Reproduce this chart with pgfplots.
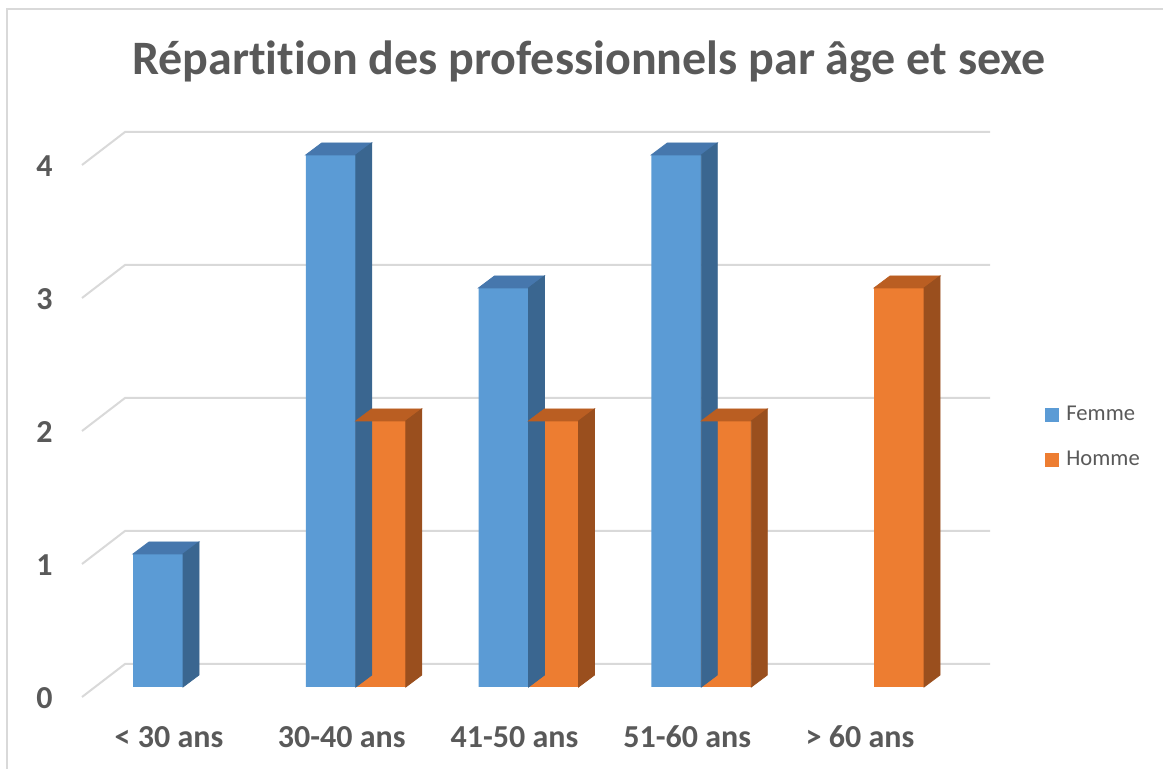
\documentclass[border=0pt]{standalone}
\usepackage{pgfplots}
\pgfplotsset{compat=1.18}
\usepackage{pgfplotstable}
\usepackage{fontspec}
\setmainfont[Ligatures=NoCommon]{Carlito}
\definecolor{femme}{HTML}{5B9BD5}
\definecolor{femtop}{HTML}{4677AD}
\definecolor{femside}{HTML}{3A6690}
\definecolor{homme}{HTML}{ED7D31}
\definecolor{homtop}{HTML}{BA5E22}
\definecolor{homside}{HTML}{9A4F1E}
\definecolor{txt}{HTML}{595959}
\definecolor{gridc}{HTML}{D9D9D9}
\pgfdeclareplotmark{blank}{}
\pgfplotstableread{
x v
0 1
1 4
2 3
3 4
}\femme
\pgfplotstableread{
x v
1 2
2 2
3 2
4 3
}\homme
\begin{document}
\begin{tikzpicture}
\useasboundingbox (-41pt,-41pt) rectangle (540.5pt,343.5pt);
\draw[gridc, line width=1pt] (545pt,338.75pt) -- (-37.5pt,338.75pt) -- (-37.5pt,-45pt);
\begin{axis}[
  at={(0,0)}, anchor=south west,
  x=86.375pt, y=66.5pt,
  xmin=-0.5847, xmax=4.5, ymin=0, ymax=4,
  enlargelimits=false, clip=false,
  axis line style={draw=none}, major tick length=0pt,
  xtick={0,1,2,3,4},
  xticklabels={< 30 ans, 30-40 ans, 41-50 ans, 51-60 ans, > 60 ans},
  ytick={0,1,2,3,4},
  /pgf/number format/assume math mode=true,
  ticklabel style={font=\bfseries\fontsize{16}{16}\selectfont, text=txt, inner sep=0pt},
  xticklabel style={anchor=base, yshift=-30.5pt, xshift=-7pt},
  yticklabel style={anchor=east, xshift=-14.5pt, yshift=-5.5pt},
  every axis title shift=0pt,
  title={Répartition des professionnels par âge et sexe},
  title style={font=\bfseries\fontsize{24}{28}\selectfont, text=txt, at={(0.5772,1.1504)}, anchor=base, inner sep=0pt},
  legend style={draw=none, fill=none, at={(1.0895,0.4685)}, anchor=west,
    font=\fontsize{11.3}{13}\selectfont, text=txt, row sep=12.75pt, column sep=3.5pt,
    nodes={inner sep=0pt, text height=7.5pt, text depth=2pt}},
  legend cell align=left,
]
\pgfplotsinvokeforeach{0,1,2,3,4}{
  \draw[gridc, line width=1pt] ([yshift=-5pt]axis cs:-0.5847,#1) -- ++(21.5pt,16.5pt) -- ([yshift=11.5pt]axis cs:4.6715,#1);
}
\addplot[ybar, bar width=25pt, bar shift=-12.5pt, fill=femme, draw=none,
  legend image code/.code={\fill[femme] (0pt,-3.5pt) rectangle (7pt,3.5pt);}]
  table[x=x,y=v]{\femme};
\addlegendentry{Femme}
\addplot[forget plot, only marks, mark=blank, scatter,
  visualization depends on={\thisrow{v}\as\val},
  scatter/@pre marker code/.code={%
    \pgfmathsetmacro\hb{6-\val*66.5}%
    \pgfmathsetmacro\hf{-\val*66.5}%
    \fill[femtop] (-25pt,0pt) -- (-17pt,6pt) -- (8pt,6pt) -- (0pt,0pt) -- cycle;
    \fill[femside] (0pt,0pt) -- (8pt,6pt) -- (8pt,\hb pt) -- (0pt,\hf pt) -- cycle;
  },
  scatter/@post marker code/.code={}]
  table[x=x,y=v]{\femme};
\addplot[ybar, bar width=25pt, bar shift=12.5pt, fill=homme, draw=none,
  legend image code/.code={\fill[homme] (0pt,-3.5pt) rectangle (7pt,3.5pt);}]
  table[x=x,y=v]{\homme};
\addlegendentry{Homme}
\addplot[forget plot, only marks, mark=blank, scatter,
  visualization depends on={\thisrow{v}\as\val},
  scatter/@pre marker code/.code={%
    \pgfmathsetmacro\hb{6-\val*66.5}%
    \pgfmathsetmacro\hf{-\val*66.5}%
    \fill[homtop] (0pt,0pt) -- (8pt,6pt) -- (33pt,6pt) -- (25pt,0pt) -- cycle;
    \fill[homside] (25pt,0pt) -- (33pt,6pt) -- (33pt,\hb pt) -- (25pt,\hf pt) -- cycle;
  },
  scatter/@post marker code/.code={}]
  table[x=x,y=v]{\homme};
\end{axis}
\end{tikzpicture}
\end{document}
